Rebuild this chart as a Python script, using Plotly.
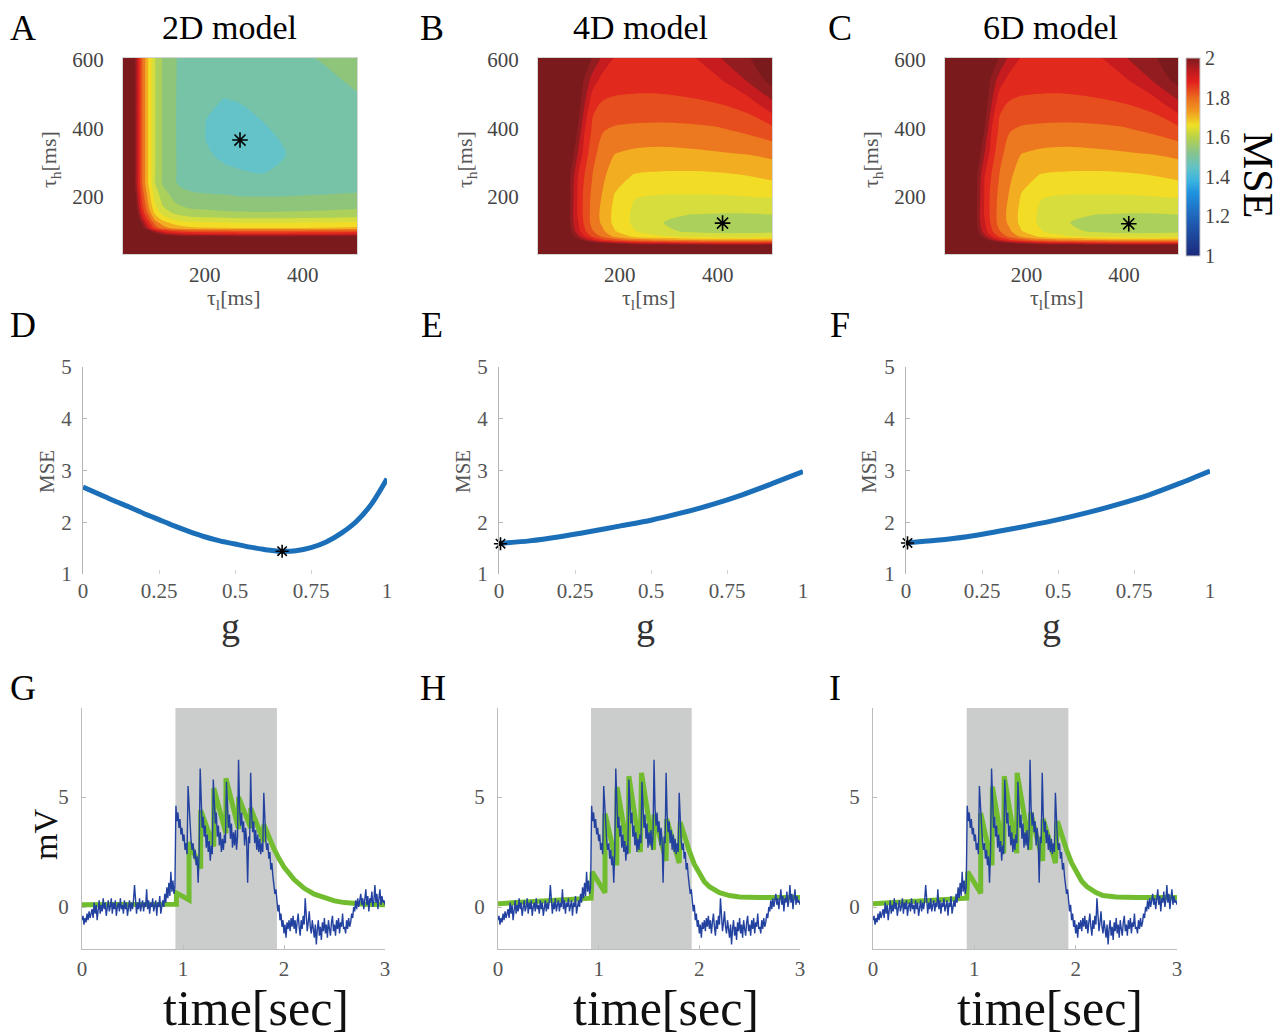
import plotly.graph_objects as go

W, H = 1285, 1036
SERIF = "Liberation Serif, Times New Roman, serif"


def fx(px):
    return px / W


def fy(py):
    return 1 - py / H


# ---------------- DATA ----------------
# Panel A (2D model) MSE surface over (tau_l, tau_h)
tau_l_2d = [33, 50, 57, 64, 72, 84, 98, 115, 139, 170, 204, 240, 270, 310, 370, 440, 511]
tau_h_2d = [34, 70, 84, 92, 102, 110, 125, 139, 156, 180, 205, 240, 273, 323, 363, 420, 483, 540, 605]
mse_2d = [
    [2.5, 2.5, 2.5, 2.5, 2.5, 2.5, 2.5, 2.5, 2.5, 2.5, 2.5, 2.5, 2.5, 2.5, 2.5, 2.5, 2.5],
    [2.5, 2.5, 2.5, 2.5, 2.5, 2.43, 2.33, 2.27, 2.23, 2.21, 2.205, 2.2, 2.198, 2.197, 2.198, 2.202, 2.208],
    [2.5, 2.5, 2.5, 2.45, 2.35, 2.25, 2.15, 2.09, 2.05, 2.03, 2.025, 2.02, 2.018, 2.017, 2.018, 2.022, 2.028],
    [2.5, 2.5, 2.43, 2.33, 2.23, 2.13, 2.03, 1.97, 1.93, 1.91, 1.905, 1.902, 1.898, 1.897, 1.898, 1.902, 1.908],
    [2.5, 2.48, 2.33, 2.23, 2.13, 2.03, 1.93, 1.87, 1.83, 1.81, 1.805, 1.802, 1.798, 1.797, 1.798, 1.802, 1.808],
    [2.5, 2.38, 2.23, 2.13, 2.03, 1.93, 1.83, 1.77, 1.73, 1.71, 1.705, 1.702, 1.698, 1.697, 1.698, 1.702, 1.708],
    [2.5, 2.33, 2.18, 2.08, 1.98, 1.88, 1.78, 1.72, 1.68, 1.66, 1.655, 1.652, 1.648, 1.647, 1.648, 1.652, 1.658],
    [2.5, 2.28, 2.13, 2.03, 1.93, 1.83, 1.73, 1.67, 1.63, 1.61, 1.605, 1.602, 1.598, 1.597, 1.598, 1.602, 1.608],
    [2.5, 2.235, 2.085, 1.985, 1.885, 1.785, 1.685, 1.625, 1.585, 1.565, 1.56, 1.555, 1.553, 1.552, 1.553, 1.557, 1.563],
    [2.5, 2.2, 2.053, 1.953, 1.853, 1.753, 1.653, 1.59, 1.553, 1.53, 1.525, 1.52, 1.518, 1.517, 1.518, 1.522, 1.528],
    [2.5, 2.18, 2.033, 1.933, 1.833, 1.733, 1.633, 1.573, 1.533, 1.51, 1.505, 1.502, 1.498, 1.497, 1.498, 1.502, 1.508],
    [2.5, 2.15, 2.003, 1.903, 1.803, 1.703, 1.603, 1.543, 1.503, 1.48, 1.472, 1.468, 1.465, 1.463, 1.465, 1.47, 1.475],
    [2.5, 2.15, 2.003, 1.903, 1.803, 1.703, 1.603, 1.543, 1.503, 1.475, 1.465, 1.458, 1.453, 1.448, 1.455, 1.462, 1.47],
    [2.5, 2.15, 2.003, 1.903, 1.803, 1.703, 1.603, 1.543, 1.503, 1.47, 1.455, 1.442, 1.437, 1.438, 1.451, 1.46, 1.468],
    [2.5, 2.15, 2.003, 1.903, 1.803, 1.703, 1.603, 1.543, 1.503, 1.468, 1.449, 1.437, 1.43, 1.437, 1.455, 1.465, 1.475],
    [2.5, 2.15, 2.003, 1.903, 1.803, 1.703, 1.603, 1.543, 1.503, 1.466, 1.449, 1.438, 1.437, 1.448, 1.462, 1.472, 1.485],
    [2.5, 2.15, 2.003, 1.903, 1.803, 1.703, 1.603, 1.543, 1.503, 1.468, 1.456, 1.449, 1.452, 1.46, 1.47, 1.482, 1.495],
    [2.5, 2.15, 2.003, 1.903, 1.803, 1.703, 1.603, 1.543, 1.503, 1.472, 1.465, 1.462, 1.464, 1.47, 1.48, 1.49, 1.507],
    [2.5, 2.15, 2.003, 1.903, 1.803, 1.703, 1.603, 1.543, 1.503, 1.478, 1.472, 1.47, 1.472, 1.478, 1.49, 1.503, 1.53],
]
best_2d = (272, 366)

# Panels B / C (4D and 6D models) - the two surfaces look identical in the picture
tau_l_4d = [33, 95, 105, 115, 128, 145, 165, 190, 230, 280, 340, 400, 460, 511]
tau_h_4d = [34, 58, 63, 68, 75, 85, 100, 125, 150, 200, 260, 330, 400, 470, 540, 605]
mse_4d = [
    [2.5, 2.5, 2.5, 2.5, 2.5, 2.5, 2.5, 2.5, 2.5, 2.5, 2.5, 2.5, 2.5, 2.5],
    [2.5, 2.5, 2.4, 2.35, 2.3, 2.2, 2.15, 2.1, 2.07, 2.06, 2.05, 2.05, 2.05, 2.06],
    [2.5, 2.4, 2.3, 2.22, 2.15, 2.1, 2.05, 2.02, 1.98, 1.96, 1.951, 1.94, 1.94, 1.945],
    [2.5, 2.3, 2.2, 2.12, 2.05, 2.003, 1.96, 1.92, 1.88, 1.86, 1.845, 1.835, 1.835, 1.84],
    [2.5, 2.2, 2.1, 2.03, 1.97, 1.91, 1.86, 1.82, 1.78, 1.76, 1.745, 1.735, 1.735, 1.74],
    [2.5, 2.1, 2.02, 1.96, 1.903, 1.84, 1.79, 1.74, 1.69, 1.66, 1.64, 1.63, 1.63, 1.635],
    [2.5, 2.05, 1.97, 1.92, 1.86, 1.803, 1.76, 1.703, 1.653, 1.61, 1.595, 1.585, 1.585, 1.59],
    [2.5, 2.03, 1.953, 1.903, 1.84, 1.78, 1.74, 1.685, 1.64, 1.603, 1.585, 1.575, 1.575, 1.578],
    [2.5, 2.03, 1.945, 1.89, 1.835, 1.78, 1.735, 1.685, 1.64, 1.615, 1.601, 1.598, 1.598, 1.601],
    [2.5, 2.03, 1.953, 1.89, 1.835, 1.785, 1.745, 1.695, 1.652, 1.645, 1.645, 1.645, 1.648, 1.652],
    [2.5, 2.03, 1.96, 1.895, 1.848, 1.797, 1.76, 1.72, 1.695, 1.69, 1.688, 1.69, 1.698, 1.712],
    [2.5, 2.03, 2.01, 1.947, 1.88, 1.815, 1.78, 1.752, 1.742, 1.738, 1.742, 1.748, 1.755, 1.765],
    [2.5, 2.05, 2.04, 1.995, 1.903, 1.84, 1.805, 1.795, 1.79, 1.788, 1.79, 1.797, 1.815, 1.84],
    [2.5, 2.1, 2.08, 2.03, 1.953, 1.86, 1.845, 1.84, 1.838, 1.838, 1.842, 1.848, 1.87, 1.935],
    [2.5, 2.15, 2.1, 2.05, 1.99, 1.925, 1.88, 1.868, 1.865, 1.865, 1.87, 1.89, 1.953, 2.02],
    [2.5, 2.2, 2.15, 2.1, 2.05, 1.995, 1.94, 1.895, 1.875, 1.87, 1.885, 1.945, 1.99, 2.06],
]
best_4d = (410, 124)
tau_l_6d = tau_l_4d
tau_h_6d = tau_h_4d
mse_6d = mse_4d
best_6d = (410, 122)

# Row 2: MSE as a function of g
g_D = [0, 0.05, 0.1, 0.15, 0.2, 0.25, 0.3, 0.35, 0.4, 0.45, 0.5,
       0.55, 0.6, 0.65, 0.7, 0.75, 0.8, 0.85, 0.9, 0.95, 1.0]
mse_D = [2.68, 2.55, 2.42, 2.30, 2.17, 2.05, 1.93, 1.82, 1.72, 1.64, 1.58,
         1.52, 1.47, 1.44, 1.45, 1.51, 1.62, 1.79, 2.02, 2.36, 2.84]
best_D = (0.655, 1.44)
g_EF = [0, 0.1, 0.2, 0.3, 0.4, 0.5, 0.6, 0.7, 0.8, 0.9, 1.0]
mse_E = [1.59, 1.64, 1.72, 1.82, 1.93, 2.04, 2.18, 2.34, 2.53, 2.75, 2.98]
mse_F = [1.60, 1.65, 1.72, 1.82, 1.93, 2.05, 2.19, 2.35, 2.53, 2.75, 2.99]
best_E = (0.005, 1.585)
best_F = (0.005, 1.60)

# Row 3: recorded voltage (same recording in G, H, I), sampled every 10 ms from 0 to 3 s
sample_dt = 0.01
voltage_mv = [
    -0.6, -0.4, -0.8, -0.5, -0.7, -0.3, -0.6, -0.2, -0.5, -0.3,
    -0.1, -0.5, 0.2, -0.3, 0.1, -0.6, 0.0, 0.3, -0.3, 0.1,
    -0.2, 0.4, -0.1, 0.2, -0.4, 0.1, 0.3, -0.2, 0.0, 0.4,
    -0.3, 0.2, -0.1, 0.3, -0.4, 0.0, 0.2, -0.2, 0.4, -0.1,
    0.1, -0.3, 0.3, -0.1, 0.2, -0.4, 0.1, 0.3, -0.2, 0.2,
    -0.1, 0.3, 1.0, 0.1, -0.3, 0.2, -0.1, 0.4, -0.2, 0.1,
    0.3, -0.2, 0.2, 0.0, 0.8, -0.1, 0.3, -0.3, 0.2, 0.0,
    0.4, -0.2, 0.1, 0.3, -0.4, 0.2, 0.0, 0.5, -0.3, 0.1,
    0.3, 0.0, 0.6, 0.2, 0.9, 0.4, 1.1, 0.5, 1.6, 0.7,
    1.2, 0.6, 0.9, 4.6, 3.9, 4.3, 3.6, 4.0, 3.3, 3.6,
    3.0, 3.3, 2.6, 2.9, 2.4, 5.5, 4.6, 3.5, 3.0, 2.6,
    2.9, 2.2, 2.6, 1.9, 2.3, 1.1, 2.5, 6.3, 4.5, 3.6,
    4.1, 3.2, 3.7, 2.7, 3.3, 2.5, 3.0, 2.1, 2.8, 2.4,
    5.8, 4.6, 3.8, 4.3, 3.2, 3.7, 2.8, 3.4, 2.5, 3.1,
    2.6, 3.3, 2.9, 5.7, 4.3, 3.6, 4.2, 3.1, 3.8, 2.7,
    3.4, 2.8, 3.5, 2.6, 3.2, 6.7, 4.5, 3.7, 4.3, 3.4,
    3.9, 2.8, 3.6, 3.0, 1.1, 3.2, 2.9, 6.1, 4.2, 3.4,
    3.9, 2.9, 3.5, 2.6, 3.3, 2.5, 3.1, 2.4, 2.9, 2.5,
    5.2, 3.6, 3.0, 2.6, 2.9, 2.2, 2.5, 1.7, 2.0, 1.4,
    1.1, 0.6, 0.8, 0.2, -0.2, 0.1, -0.6, -0.3, -0.9, -0.6,
    -1.2, -0.8, -1.4, -0.7, -1.0, -0.6, -1.1, -0.5, -0.9, -0.4,
    -1.0, -0.6, -1.2, -0.7, -0.3, -0.9, -1.3, -0.6, -1.0, -0.4,
    -0.8, 0.4, -0.5, -1.1, -0.7, -0.2, -0.9, -1.2, -0.6, -1.0,
    -1.4, -0.8, -1.7, -1.0, -0.6, -1.3, -0.9, -1.5, -0.7, -1.1,
    -0.5, -1.2, -0.8, -1.4, -0.6, -1.0, -1.3, -0.7, -0.4, -1.1,
    -0.8, -1.3, -0.6, -1.0, -0.5, -1.2, -0.7, -0.9, -0.3, -1.0,
    -0.9, -1.2, -0.6, -1.0, -0.5, -0.9, -0.7, -0.3, -0.5, 0.0,
    -0.2, 0.3, -0.1, 0.4, 0.0, 0.3, 0.6, 0.1, 0.4, -0.1,
    0.3, 0.8, 0.1, 0.5, -0.2, 0.4, 0.2, 0.7, 0.0, 0.3,
    1.0, 0.2, 0.6, -0.1, 0.4, 0.8, 0.1, 0.5, 0.2, 0.3, 0.1,
]
time_s = [round(i * sample_dt, 2) for i in range(len(voltage_mv))]

# model responses (green)
model_t_G = [0, 0.935, 0.935, 1.06, 1.06, 1.175, 1.175, 1.305, 1.305, 1.425, 1.425, 1.55, 1.55,
             1.67, 1.67, 1.80, 1.80, 1.85, 1.9, 1.95, 2.0, 2.1, 2.2, 2.3, 2.4, 2.5, 2.6, 2.7, 2.8, 3.0]
model_v_G = [0.1, 0.12, 0.64, 0.32, 2.95, 1.75, 4.4, 2.75, 5.4, 3.35, 5.85, 3.55, 5.0,
             3.6, 4.5, 2.95, 3.75, 3.15, 2.65, 2.2, 1.82, 1.25, 0.85, 0.58, 0.4, 0.28, 0.2, 0.15, 0.12, 0.1]
model_t_H = [0, 0.5, 0.925, 0.935, 1.063, 1.063, 1.18, 1.183, 1.295, 1.30, 1.415, 1.425, 1.545, 1.55,
             1.67, 1.675, 1.80, 1.81, 1.85, 1.9, 1.95, 2.0, 2.05, 2.1, 2.2, 2.3, 2.4, 2.6, 3.0]
model_v_H = [0.15, 0.3, 0.4, 1.6, 0.65, 4.25, 1.9, 5.45, 2.45, 5.95, 2.5, 6.1, 2.6, 4.2,
             2.1, 4.0, 2.0, 3.85, 3.25, 2.55, 1.95, 1.5, 1.15, 0.92, 0.65, 0.52, 0.46, 0.43, 0.43]
model_t_I = [0, 0.5, 0.925, 0.935, 1.063, 1.063, 1.175, 1.178, 1.29, 1.295, 1.418, 1.422, 1.55, 1.555,
             1.675, 1.68, 1.80, 1.82, 1.86, 1.91, 1.96, 2.01, 2.06, 2.11, 2.2, 2.27, 2.4, 2.6, 3.0]
model_v_I = [0.15, 0.3, 0.4, 1.6, 0.63, 4.27, 1.9, 5.47, 2.45, 5.95, 2.45, 6.1, 2.6, 4.3,
             2.1, 4.0, 2.0, 3.9, 3.3, 2.6, 2.0, 1.52, 1.17, 0.93, 0.66, 0.52, 0.46, 0.43, 0.43]
stim_on = [0.925, 0.924, 0.925]
stim_off = [1.93, 1.924, 1.928]

# tick labels
g_ticks = [0, 0.25, 0.5, 0.75, 1]
g_ticktext = ["0", "0.25", "0.5", "0.75", "1"]
cbar_ticks = [1, 1.2, 1.4, 1.6, 1.8, 2]
cbar_ticktext = ["1", "1.2", "1.4", "1.6", "1.8", "2"]

# ---------------- STYLE ----------------
band_colors = ['#1b2a78', '#1c3080', '#1e3c8e', '#1f4a9e', '#2058ae', '#2068be', '#1f7ed2',
               '#2098e0', '#30addf', '#68c5c6', '#77c3a7', '#8dc57c', '#a8cf5d', '#d3dc3f',
               '#f1e427', '#f4b921', '#ee8420', '#e75a1d', '#e3341e', '#df181b', '#a51f25', '#7b1a1d']
nb = len(band_colors) - 1
contour_scale = [[k / nb, c] for k, c in enumerate(band_colors)]
bar_scale = [[0, '#1b2a7b'], [0.15, '#1f55aa'], [0.25, '#2078cc'], [0.32, '#1f93de'],
             [0.38, '#3bb4e2'], [0.45, '#64c2c4'], [0.52, '#86c48e'], [0.6, '#b8d24a'],
             [0.66, '#efe025'], [0.73, '#f19a1f'], [0.8, '#ea6a1e'], [0.88, '#e2201d'],
             [0.93, '#c11b1f'], [1.0, '#7d1b1e']]
CURVE_BLUE = '#1b6fb8'
TRACE_BLUE = '#2342a0'
MODEL_GREEN = '#72bd2f'
STAR = dict(symbol='asterisk-open', size=13, color='black', line=dict(width=1.6, color='black'))

fig = go.Figure()

# ---- Row 1: contour maps ----
maps = [(tau_l_2d, tau_h_2d, mse_2d, best_2d), (tau_l_4d, tau_h_4d, mse_4d, best_4d),
        (tau_l_6d, tau_h_6d, mse_6d, best_6d)]
for i, (xs, ys, zs, best) in enumerate(maps):
    n = i + 1
    xa = 'x' if n == 1 else f'x{n}'
    ya = 'y' if n == 1 else f'y{n}'
    fig.add_trace(go.Contour(
        x=xs, y=ys, z=zs, xaxis=xa, yaxis=ya,
        colorscale=contour_scale, zmin=1, zmax=2, showscale=False,
        contours=dict(start=1.0, end=2.0, size=0.05, coloring='fill', showlines=False),
        line=dict(width=0, smoothing=1.0), hoverinfo='skip'))
    fig.add_trace(go.Scatter(
        x=[best[0]], y=[best[1]], xaxis=xa, yaxis=ya, mode='markers',
        marker=STAR, hoverinfo='skip', cliponaxis=False))

# dummy trace for continuous colorbar
fig.add_trace(go.Scatter(
    x=[-1000], y=[-1000], xaxis='x3', yaxis='y3', mode='markers',
    marker=dict(size=1, color=[1.5], cmin=1, cmax=2, colorscale=bar_scale, showscale=True,
                colorbar=dict(x=fx(1186), xanchor='left', xpad=0, ypad=0,
                              y=fy(157), yanchor='middle', len=198 / H, lenmode='fraction',
                              thickness=14, outlinewidth=1, outlinecolor='#c8c8c8',
                              tickvals=cbar_ticks, ticktext=cbar_ticktext, ticks='',
                              tickfont=dict(family=SERIF, size=20, color='#444'))),
    hoverinfo='skip'))

# ---- Row 2: MSE vs g ----
row2 = [(g_D, mse_D, best_D), (g_EF, mse_E, best_E), (g_EF, mse_F, best_F)]
for i, (gx, my, best) in enumerate(row2):
    n = i + 4
    fig.add_trace(go.Scatter(
        x=gx, y=my, xaxis=f'x{n}', yaxis=f'y{n}', mode='lines',
        line=dict(color=CURVE_BLUE, width=5, shape='spline', smoothing=0.8), hoverinfo='skip'))
    fig.add_trace(go.Scatter(
        x=[best[0]], y=[best[1]], xaxis=f'x{n}', yaxis=f'y{n}', mode='markers',
        marker=dict(STAR, size=11), hoverinfo='skip', cliponaxis=False))

# ---- Row 3: voltage traces ----
models = [(model_t_G, model_v_G), (model_t_H, model_v_H), (model_t_I, model_v_I)]
for i, (mt, mv) in enumerate(models):
    n = i + 7
    fig.add_trace(go.Scatter(
        x=mt, y=mv, xaxis=f'x{n}', yaxis=f'y{n}', mode='lines',
        line=dict(color=MODEL_GREEN, width=5), hoverinfo='skip'))
    fig.add_trace(go.Scatter(
        x=time_s, y=voltage_mv, xaxis=f'x{n}', yaxis=f'y{n}', mode='lines',
        line=dict(color=TRACE_BLUE, width=1.4), hoverinfo='skip'))
    fig.add_shape(type='rect', xref=f'x{n}', yref=f'y{n} domain',
                  x0=stim_on[i], x1=stim_off[i], y0=0, y1=1,
                  fillcolor='#cbcccc', line=dict(width=0), layer='below')

# ---------------- AXES ----------------
tickfont = dict(family=SERIF, size=21, color='#555')
layout_axes = {}

row1_x = [(123, 357), (538, 772), (945, 1178)]
for i, (l, r) in enumerate(row1_x):
    n = i + 1
    xk = 'xaxis' if n == 1 else f'xaxis{n}'
    yk = 'yaxis' if n == 1 else f'yaxis{n}'
    ya = 'y' if n == 1 else f'y{n}'
    xa = 'x' if n == 1 else f'x{n}'
    layout_axes[xk] = dict(domain=[fx(l), fx(r)], range=[33, 511], anchor=ya, automargin=False,
                           tickvals=[200, 400], showgrid=False, zeroline=False,
                           showline=True, mirror=True, linecolor='#d6d6d6', linewidth=1,
                           ticks='', ticklabelstandoff=2,
                           tickfont=dict(family=SERIF, size=21, color='#444'))
    layout_axes[yk] = dict(domain=[fy(254), fy(58)], range=[34, 605], anchor=xa, automargin=False,
                           tickvals=[200, 400, 600], showgrid=False, zeroline=False,
                           showline=True, mirror=True, linecolor='#d6d6d6', linewidth=1,
                           ticks='', ticklabelstandoff=14,
                           tickfont=dict(family=SERIF, size=21, color='#444'))

row2_x = [(83, 387), (499, 803), (906, 1210)]
for i, (l, r) in enumerate(row2_x):
    n = i + 4
    layout_axes[f'xaxis{n}'] = dict(domain=[fx(l), fx(r)], range=[0, 1.0], anchor=f'y{n}',
                                    automargin=False,
                                    tickvals=g_ticks, ticktext=g_ticktext, showgrid=False,
                                    zeroline=False, showline=False, ticks='inside', ticklen=4,
                                    tickcolor='#d0d0d0', ticklabelstandoff=2, tickfont=tickfont)
    layout_axes[f'yaxis{n}'] = dict(domain=[fy(574), fy(367)], range=[1, 5], anchor=f'x{n}',
                                    automargin=False,
                                    tickvals=[1, 2, 3, 4, 5], showgrid=False, zeroline=False,
                                    showline=True, linecolor='#b4b4b4', linewidth=1,
                                    ticks='inside', ticklen=4, tickcolor='#b4b4b4',
                                    ticklabelstandoff=6, tickfont=tickfont)

row3_x = [(82, 385), (498, 800), (873, 1177)]
for i, (l, r) in enumerate(row3_x):
    n = i + 7
    layout_axes[f'xaxis{n}'] = dict(domain=[fx(l), fx(r)], range=[0, 3], anchor=f'y{n}',
                                    automargin=False,
                                    tickvals=[0, 1, 2, 3], showgrid=False, zeroline=False,
                                    showline=True, linecolor='#bdbdbd', linewidth=1,
                                    ticks='inside', ticklen=4, tickcolor='#bdbdbd',
                                    ticklabelstandoff=1, tickfont=tickfont)
    layout_axes[f'yaxis{n}'] = dict(domain=[fy(949), fy(708)], range=[-1.91, 9.05], anchor=f'x{n}',
                                    automargin=False,
                                    tickvals=[0, 5], showgrid=False, zeroline=False,
                                    showline=True, linecolor='#bdbdbd', linewidth=1,
                                    ticks='inside', ticklen=4, tickcolor='#bdbdbd',
                                    ticklabelstandoff=8, tickfont=tickfont)

# ---------------- TEXT ----------------
annotations = []


def txt(s, px, py, size, color='black', angle=0, xanchor='center'):
    annotations.append(dict(text=s, x=fx(px), y=fy(py), xref='paper', yref='paper',
                            xanchor=xanchor, yanchor='middle', showarrow=False, textangle=angle,
                            font=dict(family=SERIF, size=size, color=color)))


for s, px, py in [('A', 23, 28), ('B', 432, 28), ('C', 840, 28),
                  ('D', 23, 325), ('E', 432, 325), ('F', 840, 325),
                  ('G', 23, 688), ('H', 433, 688), ('I', 835, 688)]:
    txt(s, px, py, 36)
for s, px in [('2D model', 229), ('4D model', 640), ('6D model', 1050)]:
    txt(s, px, 28, 34)
for px in [233, 648, 1056]:
    txt('τ<sub>l</sub>[ms]', px, 299, 22, '#555')
for px in [50, 466, 872]:
    txt('τ<sub>h</sub>[ms]', px, 160, 22, '#555', angle=-90)
txt('MSE', 1258, 175, 42, 'black', angle=90)
for px in [47, 463, 869]:
    txt('MSE', px, 472, 21, '#555', angle=-90)
for px in [230, 645, 1051]:
    txt('g', px, 626, 38, '#333')
txt('mV', 45, 835, 34, '#111', angle=-90)
for px in [256, 666, 1050]:
    txt('time[sec]', px, 1008, 50, '#111')

fig.update_layout(
    width=W, height=H, margin=dict(l=0, r=0, t=0, b=0, autoexpand=False),
    paper_bgcolor='white', plot_bgcolor='white', showlegend=False,
    font=dict(family=SERIF), annotations=annotations, **layout_axes)

fig.write_html("out.html", config={'displayModeBar': False},
               post_script="document.body.style.margin='0px';document.body.style.padding='0px';"
                           "document.documentElement.style.overflow='hidden';")
